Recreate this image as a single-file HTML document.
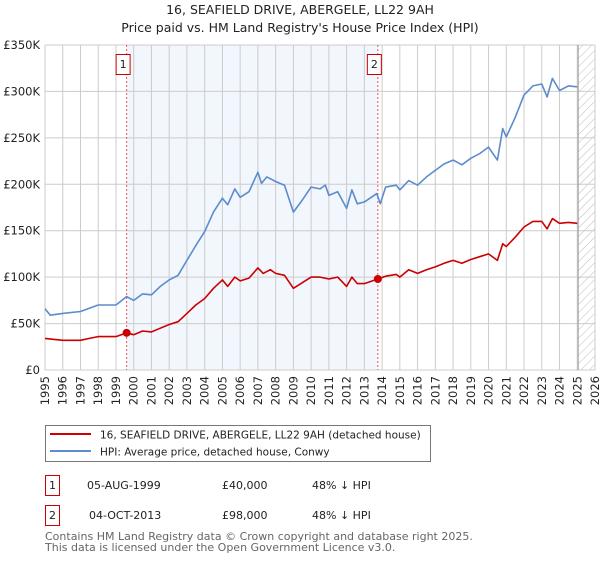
<!DOCTYPE html>
<html><head><meta charset="utf-8"><style>
body{margin:0;background:#fff;width:600px;height:560px;overflow:hidden;font-family:"DejaVu Sans","Liberation Sans",sans-serif;}
svg text{font-family:"DejaVu Sans","Liberation Sans",sans-serif;}
</style></head><body>
<svg id="chart" width="600" height="560" xmlns="http://www.w3.org/2000/svg">
<defs><pattern id="hatch" patternUnits="userSpaceOnUse" width="6" height="6" patternTransform="rotate(45)"><line x1="0" y1="0" x2="0" y2="6" stroke="#bbb" stroke-width="1"/></pattern></defs>
<text x="300" y="14" text-anchor="middle" font-size="12.5" fill="#222">16, SEAFIELD DRIVE, ABERGELE, LL22 9AH</text>
<text x="300" y="32" text-anchor="middle" font-size="12.5" fill="#222">Price paid vs. HM Land Registry's House Price Index (HPI)</text>
<g id="plot"></g>
<rect x="45.5" y="425.5" width="385" height="36" fill="#fff" stroke="#777"/>
<line x1="50" y1="434" x2="91" y2="434" stroke="#cc0000" stroke-width="2"/>
<text x="100" y="438.5" font-size="10.5" fill="#222">16, SEAFIELD DRIVE, ABERGELE, LL22 9AH (detached house)</text>
<line x1="50" y1="451" x2="91" y2="451" stroke="#5b8ccc" stroke-width="2"/>
<text x="100" y="455.5" font-size="10.5" fill="#222">HPI: Average price, detached house, Conwy</text>
<g font-size="11" fill="#222">
<rect x="45.5" y="475.5" width="14" height="20" fill="#fff" stroke="#cc0000"/>
<text x="52.5" y="489" text-anchor="middle">1</text>
<text x="87" y="489">05-AUG-1999</text><text x="222" y="489">£40,000</text><text x="312" y="489">48% ↓ HPI</text></g>
<g font-size="11" fill="#222">
<rect x="45.5" y="505.5" width="14" height="20" fill="#fff" stroke="#cc0000"/>
<text x="52.5" y="519" text-anchor="middle">2</text>
<text x="89" y="519">04-OCT-2013</text><text x="222" y="519">£98,000</text><text x="312" y="519">48% ↓ HPI</text></g>
<text x="45" y="540" font-size="11" fill="#666">Contains HM Land Registry data © Crown copyright and database right 2025.</text>
<text x="45" y="551" font-size="11" fill="#666">This data is licensed under the Open Government Licence v3.0.</text>
</svg>
<script>
const hpiYears=[1995,1995.3,1996,1997,1998,1999,1999.6,2000,2000.5,2001,2001.5,2002,2002.5,2003,2003.5,2004,2004.5,2005,2005.3,2005.7,2006,2006.5,2007,2007.2,2007.5,2008,2008.5,2009,2009.5,2010,2010.5,2010.8,2011,2011.5,2012,2012.3,2012.6,2013,2013.7,2013.9,2014.2,2014.8,2015,2015.5,2016,2016.5,2017,2017.5,2018,2018.5,2019,2019.5,2020,2020.5,2020.8,2021,2021.5,2022,2022.5,2023,2023.3,2023.6,2024,2024.5,2025];
const hpiValues=[66,59,61,63,70,70,79,75,82,81,90,97,102,118,134,149,170,185,178,195,186,192,213,201,208,203,199,170,183,197,195,199,188,192,174,194,179,181,190,179,197,199,194,204,199,208,215,222,226,221,228,233,240,226,260,251,272,296,306,308,294,314,301,306,305];
const paidYears=[1995,1996,1997,1997.5,1998,1999,1999.6,2000,2000.5,2001,2001.5,2002,2002.5,2003,2003.5,2004,2004.5,2005,2005.3,2005.7,2006,2006.5,2007,2007.3,2007.7,2008,2008.5,2009,2009.5,2010,2010.5,2011,2011.5,2012,2012.3,2012.6,2013,2013.76,2014.2,2014.8,2015,2015.5,2016,2016.5,2017,2017.5,2018,2018.5,2019,2019.5,2020,2020.5,2020.8,2021,2021.5,2022,2022.5,2023,2023.3,2023.6,2024,2024.5,2025];
const paidValues=[34,32,32,34,36,36,40,38,42,41,45,49,52,61,70,77,88,97,90,100,96,99,110,104,108,104,102,88,94,100,100,98,100,90,100,93,93,98,101,103,100,108,104,108,111,115,118,115,119,122,125,118,136,133,143,154,160,160,152,163,158,159,158];
const saleYears=[1999.6,2013.76];
const saleValues=[40,98];
const saleLabels=["1","2"];
const yTicks=[0,50,100,150,200,250,300,350];
const yTickLabels=["£0","£50K","£100K","£150K","£200K","£250K","£300K","£350K"];
const xTicks=[1995,1996,1997,1998,1999,2000,2001,2002,2003,2004,2005,2006,2007,2008,2009,2010,2011,2012,2013,2014,2015,2016,2017,2018,2019,2020,2021,2022,2023,2024,2025,2026];

const L=45,R=595,T=45,B=370,x0=1995,x1=2026,ymax=350,dataEnd=2025.05;
const xs=v=>L+(v-x0)/(x1-x0)*(R-L);
const ys=v=>B-v/ymax*(B-T);
const NS="http://www.w3.org/2000/svg";
const plot=document.getElementById('plot');
function mk(tag,attrs,parent){const e=document.createElementNS(NS,tag);for(const k in attrs)e.setAttribute(k,attrs[k]);(parent||plot).appendChild(e);return e;}

const shade=mk('rect',{x:xs(saleYears[0]),y:T,width:xs(saleYears[1])-xs(saleYears[0]),height:B-T,fill:'#f2f6fd'});


const hatch=mk('rect',{x:xs(dataEnd),y:T,width:R-xs(dataEnd),height:B-T,fill:'url(#hatch)'});



yTicks.forEach((t,i)=>{
  const g=mk('line',{x1:L,x2:R,y1:ys(t),y2:ys(t),stroke:'#ccc','stroke-width':1});
  
  
  const tx=mk('text',{x:L-5,y:ys(t)+4,'text-anchor':'end','font-size':11.5,fill:'#222'});
  tx.textContent=yTickLabels[i];
  
  
});
xTicks.forEach(t=>{
  const g=mk('line',{x1:xs(t),x2:xs(t),y1:T,y2:B,stroke:'#ccc','stroke-width':1});
  
  
  const tx=mk('text',{x:0,y:0,'text-anchor':'end','font-size':11.5,fill:'#222',transform:`translate(${xs(t)+4},${B+6}) rotate(-90)`});
  tx.textContent=String(t);
  
  
});
const endLine=mk('line',{x1:xs(dataEnd),x2:xs(dataEnd),y1:T,y2:B,stroke:'#999','stroke-width':1});



saleYears.forEach((yr,i)=>{
  const l=mk('line',{x1:xs(yr),x2:xs(yr),y1:T,y2:B,stroke:'#e55','stroke-width':1,'stroke-dasharray':'2,2'});
  
  
  const b=mk('rect',{x:xs(yr)-10.5,y:54.5,width:14,height:20,fill:'#fff',stroke:'#cc0000'});
  
  
  const t=mk('text',{x:xs(yr)-3.5,y:68,'text-anchor':'middle','font-size':11,fill:'#222'});
  t.textContent=saleLabels[i];
  
  
});

function path(xa,va){return xa.map((x,i)=>(i?'L':'M')+xs(x).toFixed(1)+','+ys(va[i]).toFixed(1)).join(' ');}
const hp=mk('path',{d:path(hpiYears,hpiValues),fill:'none',stroke:'#5b8ccc','stroke-width':1.6,'stroke-linejoin':'round'});


const pp=mk('path',{d:path(paidYears,paidValues),fill:'none',stroke:'#cc0000','stroke-width':1.6,'stroke-linejoin':'round'});


saleYears.forEach((yr,i)=>{
  const c=mk('circle',{cx:xs(yr),cy:ys(saleValues[i]),r:4,fill:'#cc0000'});
  
  
});
</script>
</body></html>
